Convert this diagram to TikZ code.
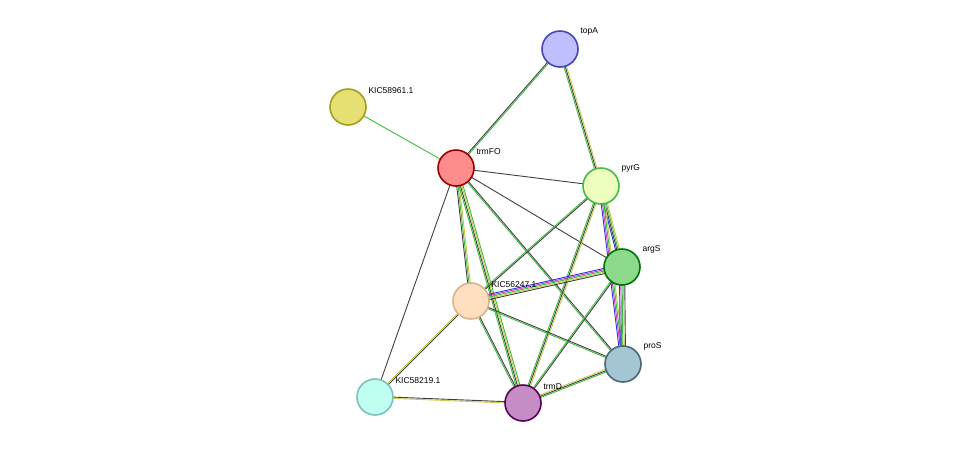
\documentclass[tikz,border=0pt]{standalone}
\usepackage{fontspec}
\setmainfont{Liberation Sans}
\usetikzlibrary{calc,backgrounds}
\definecolor{tmgreen}{HTML}{3CBE3C}
\definecolor{tmyellow}{HTML}{C8C84A}
\definecolor{coblue}{HTML}{3030E8}
\definecolor{exmag}{HTML}{C040C0}
\definecolor{coexp}{HTML}{404040}
\tikzset{
  prot/.style={circle, minimum size=36pt, line width=1.6pt, inner sep=0pt},
  lab/.style={font=\fontsize{8.5}{10}\selectfont, text=black},
  ln/.style={line width=0.9pt},
}
% one line of an edge, shifted sideways by #4 (in units)
\newcommand\strline[4]{\draw[ln,#3] ($(#1)!#4*1.3pt!90:(#2)$) -- ($(#2)!#4*1.3pt!-90:(#1)$);}
\newcommand\stredge[3]{\foreach \c/\o in {#3} {\strline{#1}{#2}{\c}{\o}}}
\begin{document}
\begin{tikzpicture}[x=1pt,y=-1pt]
\useasboundingbox (0,0) rectangle (975,448);
% proteins
\node[prot, fill=blue!25, draw=blue!45!gray] (topA) at (560,49) {};
\node[prot, fill=yellow!55!olive!50, draw=olive!80] (kic58961) at (348,107) {};
\node[prot, fill=red!45, draw=red!60!black] (trmFO) at (456,168) {};
\node[prot, fill=green!30!yellow!25, draw=green!45!gray] (pyrG) at (601,186) {};
\node[prot, fill=green!50!gray!60, draw=green!45!black] (argS) at (622,267) {};
\node[prot, fill=orange!25, draw=brown!60] (kic56247) at (471,301) {};
\node[prot, fill=cyan!40!gray!60, draw=cyan!40!black] (proS) at (623,364) {};
\node[prot, fill=green!20!cyan!25, draw=teal!50] (kic58219) at (375,397) {};
\node[prot, fill=violet!45, draw=violet!70!black] (trmD) at (523,403) {};
% labels
\node[lab, anchor=south west] at ($(topA)+(17,-10)$) {topA};
\node[lab, anchor=south west] at ($(kic58961)+(17,-10)$) {KIC58961.1};
\node[lab, anchor=south west] at ($(trmFO)+(17,-10)$) {trmFO};
\node[lab, anchor=south west] at ($(pyrG)+(17,-10)$) {pyrG};
\node[lab, anchor=south west] at ($(argS)+(17,-10)$) {argS};
\node[lab, anchor=south west] at ($(kic56247)+(17,-10)$) {KIC56247.1};
\node[lab, anchor=south west] at ($(proS)+(17,-10)$) {proS};
\node[lab, anchor=south west] at ($(kic58219)+(17,-10)$) {KIC58219.1};
\node[lab, anchor=south west] at ($(trmD)+(17,-10)$) {trmD};
% interactions
\begin{scope}[on background layer]
\stredge{kic58961}{trmFO}{tmgreen/0}
\stredge{trmFO}{topA}{tmgreen/-0.5,coexp/0.5}
\stredge{topA}{pyrG}{tmgreen/-1,coexp/0,tmyellow/1}
\stredge{trmFO}{pyrG}{coexp/0}
\stredge{trmFO}{argS}{coexp/0}
\stredge{trmFO}{proS}{tmgreen/-0.5,coexp/0.5}
\stredge{trmFO}{kic56247}{coexp/-1,tmgreen/0,tmyellow/1}
\stredge{trmFO}{trmD}{tmgreen/-1.5,coexp/-0.5,tmyellow/0.5,tmgreen/1.5}
\stredge{trmFO}{kic58219}{coexp/0}
\stredge{pyrG}{argS}{coblue/-1.5,coexp/-0.5,tmgreen/0.5,tmyellow/1.5}
\stredge{pyrG}{proS}{coblue/-1.5,exmag/-0.5,tmgreen/0.5,tmyellow/1.5}
\stredge{pyrG}{kic56247}{tmgreen/-0.5,coexp/0.5}
\stredge{pyrG}{trmD}{tmgreen/-1,coexp/0,tmyellow/1}
\stredge{argS}{kic56247}{coblue/-2,exmag/-1,tmgreen/0,tmyellow/1,coexp/2}
\stredge{argS}{proS}{coblue/-2,exmag/-1,tmgreen/0,tmyellow/1,coexp/2}
\stredge{argS}{trmD}{tmgreen/-0.5,coexp/0.5}
\stredge{kic56247}{proS}{tmgreen/-0.5,coexp/0.5}
\stredge{kic56247}{trmD}{tmgreen/-0.5,coexp/0.5}
\stredge{kic56247}{kic58219}{tmyellow/-0.5,coexp/0.5}
\stredge{kic58219}{trmD}{tmyellow/-0.5,coexp/0.5}
\stredge{trmD}{proS}{tmgreen/-1,coexp/0,tmyellow/1}
\end{scope}
\end{tikzpicture}
\end{document}
